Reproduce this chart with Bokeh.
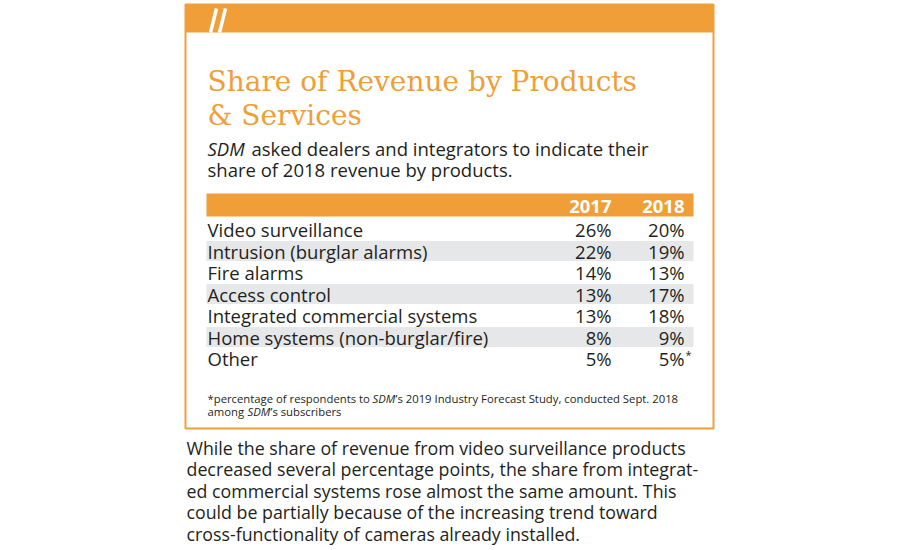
from bokeh.plotting import figure
from bokeh.models import Range1d
from bokeh.core.properties import value
from bokeh.embed import file_html
from bokeh.resources import INLINE

# ---- data ----
categories = ["Video surveillance", "Intrusion (burglar alarms)", "Fire alarms",
              "Access control", "Integrated commercial systems",
              "Home systems (non-burglar/fire)", "Other"]
values_2017 = [26, 22, 14, 13, 13, 8, 5]
values_2018 = [20, 19, 13, 17, 18, 9, 5]
years = ["2017", "2018"]
title_lines = ["Share of Revenue by Products", "& Services"]
body_lines = ["While the share of revenue from video surveillance products",
              "decreased several percentage points, the share from integrat-",
              "ed commercial systems rose almost the same amount. This",
              "could be partially because of the increasing trend toward",
              "cross-functionality of cameras already installed."]

ORANGE = "#F09E38"
GRAY = "#E6E7E8"
DARK = "#231F20"
SANS = "Open Sans"
SERIF = "DejaVu Serif"

W, H = 900, 550
p = figure(width=W, height=H, output_backend="svg", toolbar_location=None,
           x_range=Range1d(0, W), y_range=Range1d(H, 0),
           min_border=0, outline_line_color=None, background_fill_color="white",
           border_fill_color="white")
p.axis.visible = False
p.grid.visible = False

# frame layout
box_l, box_r, box_t, box_b = 185, 713, 4, 428
band_b = 32
tx = 207
col_r = [611, 684]
bar_l, bar_r, bar_t, bar_b = 206, 693, 193, 216
row_y0, row_step, row_h = 229, 21.5, 20
FS = "18.5px"

# orange band and box outline
p.quad(left=[box_l], right=[box_r], top=[box_t], bottom=[band_b],
       fill_color=ORANGE, line_color=None)
p.quad(left=[box_l], right=[box_r], top=[box_t], bottom=[box_b],
       fill_color=None, line_color=ORANGE, line_width=2)
# decorative slashes
p.segment(x0=[tx + 3, tx + 12], y0=[band_b, band_b], x1=[tx + 9, tx + 18],
          y1=[8, 8], line_color="white", line_width=3.5)

# title
p.text(x=[tx, tx], y=[81, 115], text=title_lines, text_color=ORANGE,
       text_font=value(SERIF), text_font_size="28px",
       text_baseline="alphabetic", text_align="left")

# subtitle
p.text(x=[tx], y=[148], text=["SDM"], text_color=DARK, text_font=value(SANS),
       text_font_size=FS, text_font_style="italic", text_baseline="alphabetic")
p.text(x=[tx + 44], y=[148], text=["asked dealers and integrators to indicate their"],
       text_color=DARK, text_font=value(SANS), text_font_size=FS,
       text_baseline="alphabetic")
p.text(x=[tx], y=[169], text=["share of 2018 revenue by products."], text_color=DARK,
       text_font=value(SANS), text_font_size=FS, text_baseline="alphabetic")

# table header
p.quad(left=[bar_l], right=[bar_r], top=[bar_t], bottom=[bar_b],
       fill_color=ORANGE, line_color=None)
p.text(x=col_r, y=[(bar_t + bar_b) / 2 + 1] * 2, text=years, text_color="white",
       text_font=value(SANS), text_font_size=FS, text_font_style="bold",
       text_baseline="middle", text_align="right")

# rows
ys = [row_y0 + i * row_step for i in range(len(categories))]
shade = [y for i, y in enumerate(ys) if i % 2 == 1]
p.quad(left=[bar_l] * len(shade), right=[bar_r] * len(shade),
       top=[y - row_h / 2 for y in shade], bottom=[y + row_h / 2 for y in shade],
       fill_color=GRAY, line_color=None)
p.text(x=[tx] * len(categories), y=ys, text=categories, text_color=DARK,
       text_font=value(SANS), text_font_size=FS, text_baseline="middle",
       text_align="left")
lab17 = [f"{v}%" for v in values_2017]
lab18 = [f"{v}%" for v in values_2018]
p.text(x=[col_r[0]] * len(lab17), y=ys, text=lab17, text_color=DARK,
       text_font=value(SANS), text_font_size=FS, text_baseline="middle",
       text_align="right")
p.text(x=[col_r[1]] * len(lab18), y=ys, text=lab18, text_color=DARK,
       text_font=value(SANS), text_font_size=FS, text_baseline="middle",
       text_align="right")
p.text(x=[col_r[1] + 1], y=[ys[-1] - 4], text=["*"], text_color=DARK,
       text_font=value(SANS), text_font_size="11px", text_baseline="middle",
       text_align="left")

# footnote
fs = "11.3px"
p.text(x=[tx], y=[398], text=["*percentage of respondents to"], text_color=DARK,
       text_font=value(SANS), text_font_size=fs, text_baseline="alphabetic")
p.text(x=[372], y=[398], text=["SDM"], text_color=DARK, text_font=value(SANS),
       text_font_size=fs, text_font_style="italic", text_baseline="alphabetic")
p.text(x=[395], y=[398], text=["\u2019s 2019 Industry Forecast Study, conducted Sept. 2018"],
       text_color=DARK, text_font=value(SANS), text_font_size=fs,
       text_baseline="alphabetic")
p.text(x=[tx], y=[411], text=["among"], text_color=DARK,
       text_font=value(SANS), text_font_size=fs, text_baseline="alphabetic")
p.text(x=[247], y=[411], text=["SDM"], text_color=DARK, text_font=value(SANS),
       text_font_size=fs, text_font_style="italic", text_baseline="alphabetic")
p.text(x=[270], y=[411], text=["\u2019s subscribers"], text_color=DARK,
       text_font=value(SANS), text_font_size=fs, text_baseline="alphabetic")

# body paragraph
by = [447 + i * 21.6 for i in range(len(body_lines))]
p.text(x=[186] * len(body_lines), y=by, text=body_lines, text_color=DARK,
       text_font=value(SANS), text_font_size="17.8px", text_baseline="middle",
       text_align="left")

open("out.html", "w").write(file_html(p, INLINE))
